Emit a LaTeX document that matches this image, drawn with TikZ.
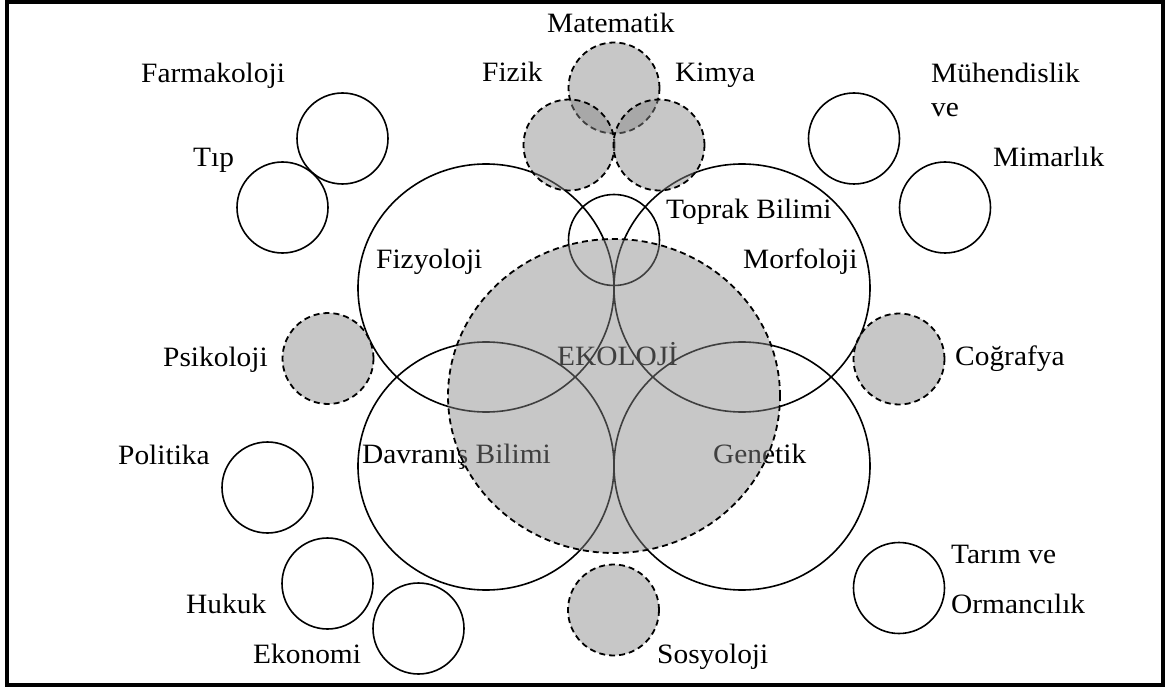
\documentclass[tikz,border=0pt]{standalone}
\usepackage{fontspec}
\setmainfont[FakeStretch=1.05]{Liberation Serif}
\usetikzlibrary{shapes.geometric}
\definecolor{ecofill}{gray}{0.53}
\begin{document}
\begin{tikzpicture}[x=1pt,y=-1pt,
  lbl/.style={anchor=base west, inner sep=0pt, font=\fontsize{28}{30}\selectfont},
  sc/.style={circle, draw, line width=1.6pt, minimum size=91pt, inner sep=0pt},
  dc/.style={circle, draw, line width=1.8pt, dash pattern=on 6pt off 4pt, fill=ecofill, fill opacity=0.47, draw opacity=1, minimum size=91pt, inner sep=0pt},
  bc/.style={ellipse, draw, line width=1.6pt, minimum width=256pt, minimum height=248pt, inner sep=0pt}]
\useasboundingbox (0,0) rectangle (1165,687);
\draw[line width=4pt] (7,2) rectangle (1163,685);

% solid small circles
\node[sc] (farm) at (342.5,138.5) {};
\node[sc] (tip) at (282.5,207.5) {};
\node[sc] (muh) at (854,138.5) {};
\node[sc] (mim) at (945,207.5) {};
\node[sc] (pol) at (267.5,487.5) {};
\node[sc] (huk) at (327.5,583.5) {};
\node[sc] (eko) at (418.5,628.5) {};
\node[sc] (tar) at (899,588) {};
\node[sc] (top) at (614,240) {};

% big circles
\node[bc] (fiz) at (486,288) {};
\node[bc] (mor) at (742,288) {};
\node[bc] (dav) at (486,466) {};
\node[bc] (gen) at (742,466) {};

% labels
\node[lbl] (lmat) at (547,33) {Matematik};
\node[lbl] (lfiz) at (482,82) {Fizik};
\node[lbl] (lkim) at (675,82) {Kimya};
\node[lbl] (lfar) at (141,83) {Farmakoloji};
\node[lbl] (ltip) at (193,167) {Tıp};
\node[lbl] (lmuh) at (931,83) {Mühendislik};
\node[lbl] (lve) at (931,117) {ve};
\node[lbl] (lmim) at (993,167) {Mimarlık};
\node[lbl] (ltop) at (666,219) {Toprak Bilimi};
\node[lbl] (lfzy) at (376,269) {Fizyoloji};
\node[lbl] (lmor) at (743,269) {Morfoloji};
\node[lbl] (lpsi) at (163,366) {Psikoloji};
\node[lbl] (leco) at (557,365) {EKOLOJİ};
\node[lbl] (lcog) at (955,365) {Coğrafya};
\node[lbl] (lpol) at (118,464) {Politika};
\node[lbl] (ldav) at (362,463) {Davranış Bilimi};
\node[lbl] (lgen) at (713,463) {Genetik};
\node[lbl] (ltar) at (951,563) {Tarım ve};
\node[lbl] (lorm) at (951,613) {Ormancılık};
\node[lbl] (lhuk) at (186,613) {Hukuk};
\node[lbl] (lekn) at (253,663) {Ekonomi};
\node[lbl] (lsos) at (657,663) {Sosyoloji};

% dashed shaded circles
\node[dc] (mat) at (614,88) {};
\node[dc] (fzk) at (569,145) {};
\node[dc] (kim) at (659,145) {};
\node[dc] (psi) at (328,358.5) {};
\node[dc] (cog) at (899,359) {};
\node[dc] (sos) at (613.5,610) {};
\node[dc, ellipse, minimum width=332pt, minimum height=314pt] (ekoloji) at (614,396) {};
\end{tikzpicture}
\end{document}
